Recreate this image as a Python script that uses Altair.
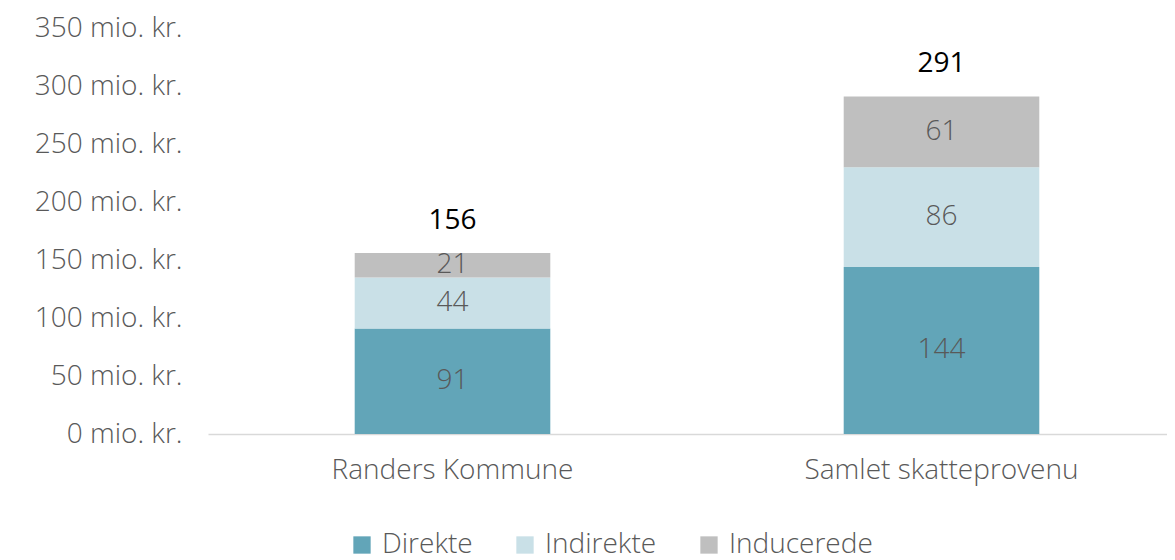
import altair as alt
import pandas as pd

categories = ["Randers Kommune", "Samlet skatteprovenu"]
series = ["Direkte", "Indirekte", "Inducerede"]
direkte = [91, 144]
indirekte = [44, 86]
inducerede = [21, 61]
totals = [156, 291]
colors = ["#62A5B8", "#C9E0E7", "#BFBFBF"]

rows = []
for i, c in enumerate(categories):
    for s, vals in zip(series, [direkte, indirekte, inducerede]):
        rows.append({"kategori": c, "serie": s, "værdi": vals[i], "order": series.index(s)})
df = pd.DataFrame(rows)
tot = pd.DataFrame({"kategori": categories, "total": totals})

FONT = "Open Sans"
FS = 28
LW = 300

x = alt.X("kategori:N", sort=categories, title=None,
          scale=alt.Scale(paddingInner=0.6, paddingOuter=0.3, range=[0, 978]),
          axis=alt.Axis(labelAngle=0, labelFontSize=FS, labelColor="#595959", labelFont=FONT,
                        labelFontWeight=LW, ticks=False, domainColor="#D9D9D9", domainWidth=1.5,
                        labelPadding=22, labelLimit=0))

bars = alt.Chart(df).mark_bar().encode(
    x=x,
    y=alt.Y("sum(værdi):Q", title=None, stack="zero",
            scale=alt.Scale(domain=[0, 350]),
            axis=alt.Axis(values=list(range(0, 351, 50)), labelExpr="datum.value + ' mio. kr.'",
                          labelFontSize=FS, labelColor="#595959", labelFont=FONT, labelFontWeight=LW,
                          grid=False, domain=False, ticks=False, labelPadding=26, labelLimit=0)),
    color=alt.Color("serie:N", sort=series, scale=alt.Scale(domain=series, range=colors),
                    legend=alt.Legend(title=None, orient="none", direction="horizontal",
                                      legendX=140, legendY=503, symbolType="square", symbolSize=300,
                                      symbolStrokeWidth=0, labelFontSize=FS, labelColor="#595959",
                                      labelFont=FONT, labelFontWeight=LW, columnPadding=38,
                                      labelOffset=6, labelLimit=0)),
    order=alt.Order("order:Q"),
)

seglabels = alt.Chart(df).mark_text(fontSize=FS, color="#595959", font=FONT, fontWeight=LW).encode(
    x=alt.X("kategori:N", sort=categories),
    y=alt.Y("mid:Q"),
    text="værdi:Q",
).transform_stack(
    stack="værdi", groupby=["kategori"], as_=["y0", "y1"], sort=[alt.SortField("order")]
).transform_calculate(mid="(datum.y0 + datum.y1) / 2")

totlabels = alt.Chart(tot).mark_text(fontSize=FS, color="#000000", font=FONT, fontWeight=400, dy=-32).encode(
    x=alt.X("kategori:N", sort=categories),
    y=alt.Y("total:Q"),
    text="total:Q",
)

chart = alt.layer(bars, seglabels, totlabels).properties(
    width=959, height=406,
    autosize=alt.AutoSizeParams(type="none"),
    padding={"left": 200, "top": 20, "right": 0, "bottom": 124},
).configure_view(stroke=None)

chart.save("out.html", embed_options={"renderer": "svg", "actions": False})
